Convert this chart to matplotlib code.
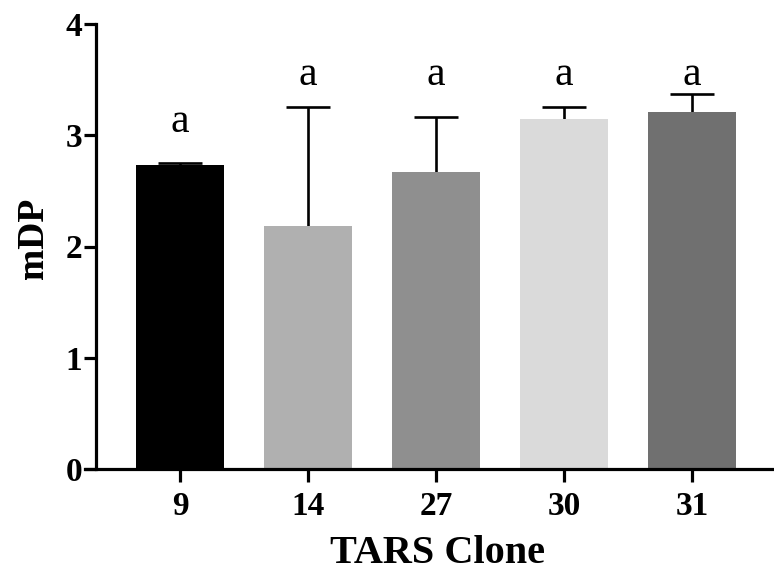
import matplotlib.pyplot as plt
import numpy as np

plt.rcParams['font.family'] = ['Liberation Serif', 'DejaVu Serif']

clones = ['9', '14', '27', '30', '31']
mdp = [2.73, 2.18, 2.67, 3.15, 3.21]
sd = [0.02, 1.07, 0.49, 0.10, 0.16]
letters = ['a', 'a', 'a', 'a', 'a']
colors = ['#000000', '#b0b0b0', '#8f8f8f', '#dadada', '#707070']

fig = plt.figure(figsize=(7.74, 5.75), dpi=100)
W, H = 774, 575
# axes area in pixels
ax = fig.add_axes([85 / W, 1 - 469 / H, (W - 85) / W, (469 - 24) / H])

x = np.arange(len(clones))
top = np.array(mdp) + np.array(sd)
ax.bar(x, mdp, width=0.69, color=colors, zorder=2)
# upper error bars only
ax.vlines(x, mdp, top, colors='black', linewidth=1.9, zorder=1)
ax.hlines(top, x - 0.17, x + 0.17, colors='black', linewidth=1.9, zorder=1)

# significance letters
label_y = [3.03, 3.45, 3.45, 3.45, 3.45]
for xi, lab, ly in zip(x, letters, label_y):
    ax.text(xi, ly, lab, ha='center', va='baseline', fontsize=30)

ax.set_xlim((85 - 180) / 128, (W - 180) / 128)
ax.set_ylim(0, 4)
ax.spines['left'].set_position(('data', (96 - 180) / 128))
ax.spines['top'].set_visible(False)
ax.spines['right'].set_visible(False)
for s in ['left', 'bottom']:
    ax.spines[s].set_linewidth(2.3)

ax.set_yticks([0, 1, 2, 3, 4])
ax.set_yticklabels(['0', '1', '2', '3', '4'], fontsize=24, fontweight='bold')
ax.set_xticks(x)
ax.set_xticklabels(clones, fontsize=24, fontweight='bold')
ax.tick_params(axis='both', width=2.3, length=9, pad=1)
ax.tick_params(axis='x', pad=7)

ax.set_ylabel('mDP', fontsize=27, fontweight='bold', va='baseline')
ax.yaxis.set_label_coords(-0.061, 0.519)
ax.set_xlabel('TARS Clone', fontsize=29, fontweight='bold', va='baseline')
ax.xaxis.set_label_coords(0.512, -0.211)

fig.savefig('out.png', dpi=100)
